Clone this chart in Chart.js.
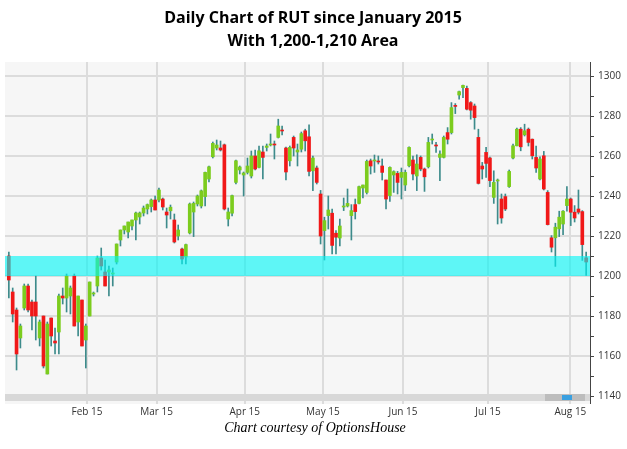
<!DOCTYPE html>
<html><head><meta charset="utf-8">
<script src="https://cdn.jsdelivr.net/npm/chart.js@4/dist/chart.umd.min.js"></script>
<style>html,body{margin:0;padding:0;background:#fff}#w{width:627px;height:449px}</style>
</head><body><div id="w"><canvas id="c"></canvas></div>
<script>
const titleLines = ["Daily Chart of RUT since January 2015", "With 1,200-1,210 Area"];
const credit = "Chart courtesy of OptionsHouse";
const monthLabels = ["Feb 15","Mar 15","Apr 15","May 15","Jun 15","Jul 15","Aug 15"];
const monthIndex = [21.3,39.4,62.3,82.6,103.4,125.5,146.9];
const bandRange = [1200, 1210];
const yTicks = [1140,1160,1180,1200,1220,1240,1260,1280,1300];

const opens = [1210,1192,1183,1169,1184,1195,1187,1187,1169,1180,1151,1179,1167.5,1172,1190,1189,1190,1200,1177,1188,
1168,1180,1191,1195,1209,1202,1202,1201,1207,1218,1223,1222,1225,1228,1229.5,1231.5,1233.5,1234.7,1238,1238,
1238.5,1232,1232.6,1228,1220,1213.5,1209.5,1221.5,1232,1236,1235,1239.7,1248.5,1259.6,1264,1264,1265.6,1228.5,1231.4,1246.8,
1253,1250.5,1251.8,1250,1260,1254.3,1262,1264.3,1265.5,1266,1269.3,1273,1264,1257.6,1269.3,1262,1263.4,1272.6,1269.6,1252.6,
1254,1241,1222.7,1230.2,1231.4,1221.4,1219,1234.5,1235,1230.2,1235.7,1236.3,1244,1241.8,1257.6,1257.5,1257.3,1255,1248,1240.2,
1250.5,1251.3,1249.3,1245.5,1255.1,1258,1250,1259.3,1253.5,1254.6,1268,1265.5,1259.3,1259.3,1271.7,1271.7,1285.3,1290.5,1294.2,1293.8,
1286.7,1285,1269.3,1255,1261.8,1259,1239.3,1247.5,1238.5,1239.7,1244.7,1259,1265.1,1273.4,1270.6,1273.4,1268.4,1259.3,1248.5,1260.1,
1241.8,1219.1,1219.1,1223.6,1226,1235.2,1238.5,1231.9,1233.5,1232.2,1209.1];
const highs = [1212,1194,1184,1176,1196,1196,1188,1200,1178,1180,1177,1179,1174,1191,1194,1201,1195,1201,1190,1188,
1176,1197,1192,1210,1214,1208,1205,1204,1216,1223,1225,1227,1228,1232,1232,1235,1236,1238.5,1240,1244,
1239,1234,1235.5,1231,1225.5,1214,1216,1236.5,1237,1240.5,1243,1252,1255,1267,1268,1267.5,1266,1234,1240.5,1258,
1255,1252,1259,1262.5,1263,1265,1265,1266,1271,1267.5,1278.4,1275,1264.5,1265,1270,1266,1272,1273.4,1275.6,1260,
1255,1242.8,1229.4,1240,1233.5,1222.7,1228.5,1239,1243.5,1235.7,1238.5,1245,1245.5,1258,1258.5,1260.5,1260,1258.5,1248,1254.6,
1252.6,1252.3,1254,1253,1264.6,1260,1260.6,1260,1254,1269.3,1271,1266.8,1262.6,1270,1274.2,1286.7,1286.2,1292.5,1295.5,1295,
1287.2,1286,1273.4,1256.8,1264.3,1259.5,1252.6,1248.5,1241,1241,1253,1266,1274,1274.2,1275.9,1274,1268.5,1265,1259.6,1262.3,
1242.7,1220.2,1226.4,1232.4,1232.7,1244.7,1239,1235.2,1243,1232.7,1212];
const lows = [1189,1177,1153,1164,1183,1182,1173,1168,1165,1154,1151,1165,1161,1161,1186,1182,1181,1175,1170,1165,
1154,1180,1190,1192,1203,1195,1190,1195,1206,1215,1221,1219,1223,1218,1226,1230,1231,1232,1233,1237,
1233,1224,1228.5,1216.5,1218,1206,1206,1221,1219.7,1235,1234,1235,1247,1259,1263,1262.5,1233,1225,1230,1246,
1251,1240,1251,1249,1253,1254,1248.5,1262.5,1265,1258.5,1269,1270.5,1248,1255,1260,1255,1262,1262.5,1250,1242.7,
1246,1216,1208,1223.5,1211,1211,1215,1232.7,1234.5,1218,1228.5,1236,1239,1241,1251,1251.8,1256,1248,1233.5,1237.3,
1241.8,1241,1238.5,1242.7,1254.6,1248,1242.7,1252.6,1242.3,1254,1266,1261.8,1247.7,1259,1266,1271,1281.2,1288.4,1289.2,1283,
1278.4,1273.4,1246,1248.5,1249.3,1244.7,1236.3,1226,1226.4,1232.7,1244.3,1258.5,1265,1262.6,1270,1265,1258.5,1251.8,1248,1243,
1225.5,1212,1204.8,1219.7,1220.7,1232.4,1225.2,1227,1231,1207.8,1200.3];
const closes = [1198,1181,1161,1175,1195,1183,1180,1180,1177,1155,1176,1170,1166.5,1190,1189,1200,1194,1175,1190,1165,
1175,1197,1191.5,1209,1205,1195,1203,1201.5,1216,1223,1225,1227,1228,1231.5,1231.5,1234,1235.7,1238,1233,1243,
1234.5,1230.5,1234.4,1217,1223,1208.5,1215.7,1236,1236.3,1240,1242.6,1251.8,1254.6,1266.3,1265.5,1263,1233.5,1232,1240.2,1257.6,
1254.5,1251.5,1255,1260,1253.5,1262.6,1259.3,1265,1266,1265.5,1275,1272.5,1252,1264.3,1264,1263,1271.2,1267.6,1252.3,1259,
1246.8,1220,1227.7,1233,1215.3,1219.4,1225,1235,1236.3,1232.7,1232.2,1244.7,1245.5,1257.3,1255,1258,1257,1251.8,1238.5,1254.3,
1252.2,1246.8,1251.8,1251.8,1264.3,1251,1256,1253.5,1249.6,1266.8,1268.5,1265,1261,1269.3,1268.4,1284.2,1284.8,1292.2,1295.3,1283.4,
1282.9,1279.2,1246.3,1253.5,1256.3,1247.7,1246.8,1248,1229,1233.5,1252.3,1265.1,1273.4,1264.6,1272.6,1266.8,1260.1,1254,1258.5,1243.5,
1225.7,1214.4,1224.4,1229.4,1232.4,1238.5,1231.9,1229,1231.9,1215.7,1207];

const up = '#7ccc1e', down = '#f01818', wick = '#3d8b8b';
const wickData = lows.map((l,i)=>({x:i+1, y:[l, highs[i]]}));
const bodyData = opens.map((o,i)=>({x:i+1, y:[o, closes[i]]}));
const bodyColors = opens.map((o,i)=> closes[i] >= o ? up : down);

const overlay = {
  id:'overlay',
  beforeDraw(chart){
    const {ctx, chartArea:a} = chart;
    ctx.save(); ctx.fillStyle='#f6f6f6';
    ctx.fillRect(a.left, a.top, a.right-a.left, a.bottom-a.top); ctx.restore();
  },
  afterDatasetsDraw(chart){
    const {ctx, chartArea:a, scales:{y}} = chart;
    const y1 = y.getPixelForValue(bandRange[1]), y0 = y.getPixelForValue(bandRange[0]);
    ctx.save();
    ctx.fillStyle='rgba(0,245,245,0.62)';
    ctx.fillRect(a.left, y1, a.right-a.left, y0-y1);
    ctx.fillStyle='#d8d8d8'; ctx.fillRect(a.left, a.bottom-10, a.right-a.left, 7);
    ctx.fillStyle='#bdbdbd'; ctx.fillRect(a.right-45, a.bottom-10, 40, 7);
    ctx.fillStyle='#3aa0e0'; ctx.fillRect(a.right-28, a.bottom-9, 10, 5);
    ctx.strokeStyle='#444'; ctx.lineWidth=1;
    ctx.beginPath(); ctx.moveTo(a.right+0.5, a.top); ctx.lineTo(a.right+0.5, a.bottom); ctx.stroke();
    for (let v=1140; v<=1300; v+=10){
      const p = Math.round(y.getPixelForValue(v))+0.5;
      ctx.beginPath(); ctx.moveTo(a.right, p); ctx.lineTo(a.right+4, p); ctx.stroke();
    }
    ctx.restore();
  },
  afterDraw(chart){
    const ctx = chart.ctx;
    ctx.save(); ctx.fillStyle='#000'; ctx.textAlign='center'; ctx.textBaseline='middle';
    ctx.font='bold 16px "Open Sans", "Liberation Sans", sans-serif';
    ctx.fillText(titleLines[0], 313, 18);
    ctx.fillText(titleLines[1], 313, 41);
    ctx.font='italic 14px "Liberation Serif", serif';
    ctx.fillText(credit, 315, 428);
    ctx.restore();
  }
};

new Chart(document.getElementById('c'), {
  type:'bar',
  data:{ datasets:[
    {data:bodyData, backgroundColor:bodyColors, barThickness:3, minBarLength:1, grouped:false, order:0},
    {data:wickData, backgroundColor:wick, barThickness:1, grouped:false, order:1}
  ]},
  options:{
    responsive:true, maintainAspectRatio:false, animation:false,
    layout:{padding:{left:5, top:62, right:0, bottom:30}},
    plugins:{legend:{display:false}, tooltip:{enabled:false}},
    scales:{
      x:{type:'linear', min:0, max:152, offset:false,
        afterBuildTicks(s){ s.ticks = monthIndex.map(v=>({value:v})); },
        afterFit(s){ s.height = 15; },
        ticks:{autoSkip:false, maxRotation:0, padding:2, color:'#333', font:{size:10, family:'Open Sans'},
          callback(v){ const i = monthIndex.indexOf(v); return i>=0 ? monthLabels[i] : ''; }},
        grid:{color:'#dcdcdc', lineWidth:2, drawTicks:false, offset:false}, border:{display:false}},
      y:{position:'right', min:1136, max:1307,
        afterBuildTicks(s){ s.ticks = yTicks.map(v=>({value:v})); },
        afterFit(s){ s.width = 37; },
        ticks:{padding:8, color:'#333', font:{size:10, family:'Open Sans'}, callback:v=>String(v)},
        grid:{color:'#dcdcdc', lineWidth:2, drawTicks:false}, border:{display:false}}
    }
  },
  plugins:[overlay]
});
</script></body></html>
